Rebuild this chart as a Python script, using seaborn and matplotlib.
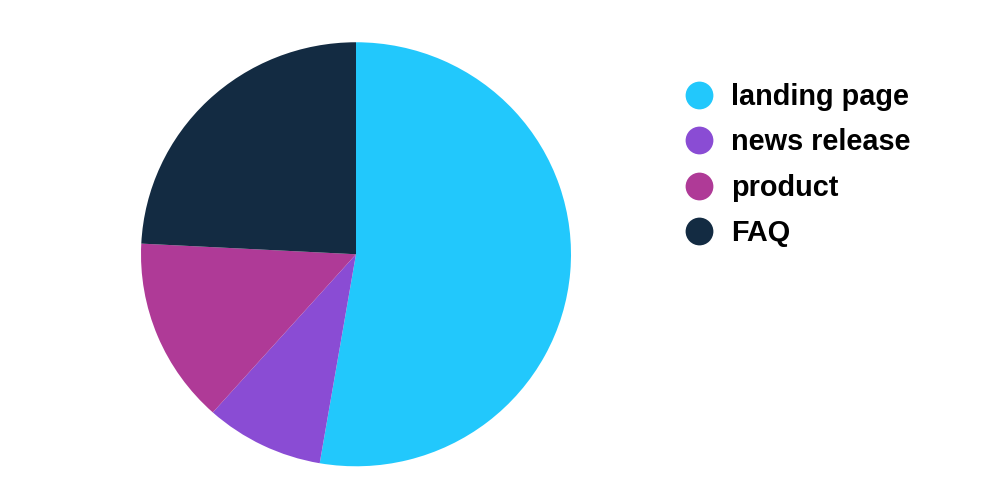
import matplotlib
matplotlib.use("Agg")
import matplotlib.pyplot as plt
from matplotlib.lines import Line2D
import seaborn as sns

sns.set_theme(style="white")
plt.rcParams["font.family"] = ["Liberation Sans", "DejaVu Sans"]

# page type shares (%)
pages = ["landing page", "news release", "product", "FAQ"]
shares = [52.7, 8.9, 14.2, 24.2]
colors = ["#22C8FC", "#8A4CD4", "#AF3A97", "#132B42"]

fig = plt.figure(figsize=(10, 5.03), dpi=100)
ax = fig.add_axes([0.141, 0.073, 0.430, 0.843])

ax.pie(shares, colors=colors, startangle=90, counterclock=False,
       wedgeprops=dict(linewidth=0))
ax.set_xlim(-1, 1)
ax.set_ylim(-1, 1)
ax.set_aspect("auto")

handles = [Line2D([0], [0], marker="o", linestyle="", markersize=20,
                  markerfacecolor=c, markeredgewidth=0) for c in colors]
fig.legend(handles, pages, loc="upper left", bbox_to_anchor=(0.682, 0.835),
           frameon=False, prop=dict(size=20.8, weight="bold"),
           labelcolor="black", handletextpad=0.5, labelspacing=0.6,
           handlelength=1.2, borderaxespad=0, borderpad=0)

fig.savefig("out.png", dpi=100)
